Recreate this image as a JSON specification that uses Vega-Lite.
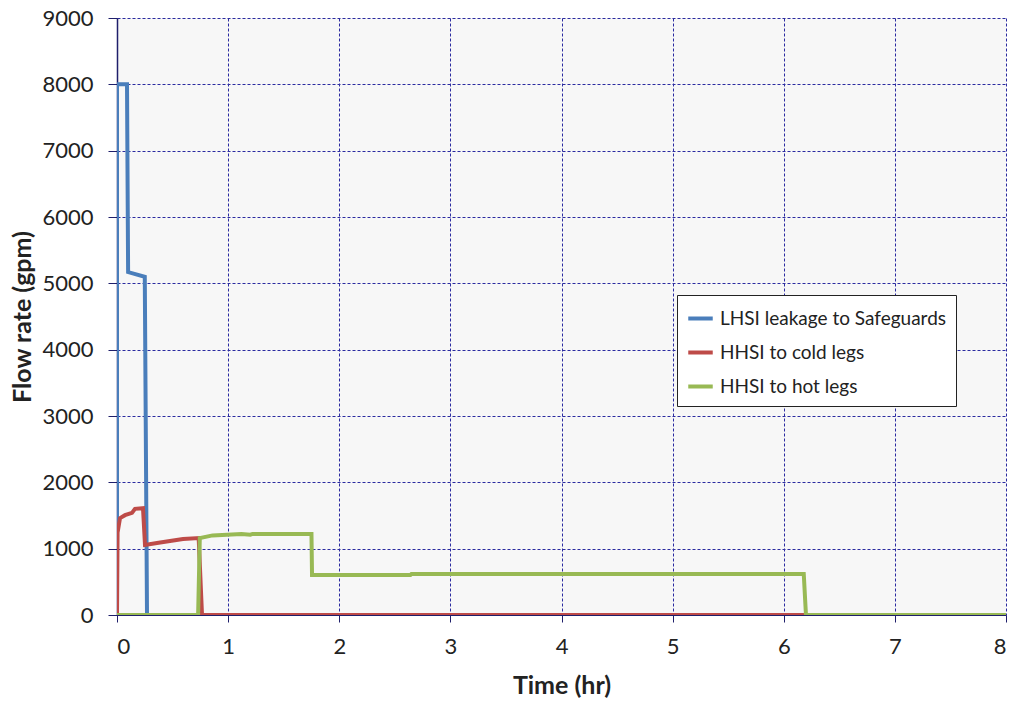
{
  "$schema": "https://vega.github.io/schema/vega-lite/v6.json",
  "width": 889,
  "height": 597,
  "autosize": "none",
  "padding": {"left": 117, "top": 18, "right": 12, "bottom": 90},
  "background": "white",
  "config": {
    "font": "Lato",
    "view": {"fill": "#f7f7f7", "stroke": null}
  },
  "data": {
    "values": [
      {"s": "LHSI leakage to Safeguards", "i": 1, "t": 0, "v": 0},
      {"s": "LHSI leakage to Safeguards", "i": 2, "t": 0, "v": 8000},
      {"s": "LHSI leakage to Safeguards", "i": 3, "t": 0.09, "v": 8000},
      {"s": "LHSI leakage to Safeguards", "i": 4, "t": 0.1, "v": 5170},
      {"s": "LHSI leakage to Safeguards", "i": 5, "t": 0.25, "v": 5100},
      {"s": "LHSI leakage to Safeguards", "i": 6, "t": 0.27, "v": 0},
      {"s": "LHSI leakage to Safeguards", "i": 7, "t": 0.8, "v": 0},
      {"s": "HHSI to cold legs", "i": 1, "t": 0, "v": 0},
      {"s": "HHSI to cold legs", "i": 2, "t": 0.005, "v": 1240},
      {"s": "HHSI to cold legs", "i": 3, "t": 0.027, "v": 1460},
      {"s": "HHSI to cold legs", "i": 4, "t": 0.072, "v": 1505},
      {"s": "HHSI to cold legs", "i": 5, "t": 0.135, "v": 1540},
      {"s": "HHSI to cold legs", "i": 6, "t": 0.162, "v": 1600},
      {"s": "HHSI to cold legs", "i": 7, "t": 0.234, "v": 1610},
      {"s": "HHSI to cold legs", "i": 8, "t": 0.252, "v": 1055},
      {"s": "HHSI to cold legs", "i": 9, "t": 0.36, "v": 1085},
      {"s": "HHSI to cold legs", "i": 10, "t": 0.477, "v": 1115},
      {"s": "HHSI to cold legs", "i": 11, "t": 0.594, "v": 1145},
      {"s": "HHSI to cold legs", "i": 12, "t": 0.735, "v": 1160},
      {"s": "HHSI to cold legs", "i": 13, "t": 0.765, "v": 0},
      {"s": "HHSI to cold legs", "i": 14, "t": 8, "v": 0},
      {"s": "HHSI to hot legs", "i": 1, "t": 0, "v": 0},
      {"s": "HHSI to hot legs", "i": 2, "t": 0.73, "v": 0},
      {"s": "HHSI to hot legs", "i": 3, "t": 0.745, "v": 1160},
      {"s": "HHSI to hot legs", "i": 4, "t": 0.86, "v": 1200},
      {"s": "HHSI to hot legs", "i": 5, "t": 1.12, "v": 1220},
      {"s": "HHSI to hot legs", "i": 6, "t": 1.2, "v": 1210},
      {"s": "HHSI to hot legs", "i": 7, "t": 1.22, "v": 1222},
      {"s": "HHSI to hot legs", "i": 8, "t": 1.75, "v": 1220},
      {"s": "HHSI to hot legs", "i": 9, "t": 1.755, "v": 603},
      {"s": "HHSI to hot legs", "i": 10, "t": 2.64, "v": 603},
      {"s": "HHSI to hot legs", "i": 11, "t": 2.65, "v": 618},
      {"s": "HHSI to hot legs", "i": 12, "t": 6.18, "v": 618},
      {"s": "HHSI to hot legs", "i": 13, "t": 6.2, "v": 0},
      {"s": "HHSI to hot legs", "i": 14, "t": 8, "v": 0}
    ]
  },
  "encoding": {
    "x": {
      "field": "t", "type": "quantitative",
      "scale": {"domain": [0, 8], "nice": false, "zero": false},
      "axis": {
        "title": "Time (hr)", "titleFontSize": 25, "titleFontWeight": "bold", "titleColor": "#222",
        "titlePadding": 16,
        "values": [0, 1, 2, 3, 4, 5, 6, 7, 8], "format": "d",
        "labelFontSize": 22, "labelColor": "#222", "labelPadding": 14,
        "tickColor": "#1f1f6b", "tickSize": 7, "domainColor": "#1f1f6b",
        "grid": true, "gridColor": "#2b2ba0", "gridDash": [3, 2], "gridWidth": 1
      }
    },
    "y": {
      "field": "v", "type": "quantitative",
      "scale": {"domain": [0, 9000], "nice": false},
      "axis": {
        "title": "Flow rate (gpm)", "titleFontSize": 25, "titleFontWeight": "bold", "titleColor": "#222",
        "titlePadding": 6,
        "values": [0, 1000, 2000, 3000, 4000, 5000, 6000, 7000, 8000, 9000], "format": "d",
        "labelFontSize": 22, "labelColor": "#222", "labelPadding": 15,
        "tickColor": "#1f1f6b", "tickSize": 9, "domainColor": "#1f1f6b", "domainWidth": 1.5,
        "grid": true, "gridColor": "#2b2ba0", "gridDash": [3, 2], "gridWidth": 1
      }
    },
    "order": {"field": "i", "type": "quantitative"},
    "color": {
      "field": "s", "type": "nominal",
      "scale": {
        "domain": ["LHSI leakage to Safeguards", "HHSI to cold legs", "HHSI to hot legs"],
        "range": ["#4a7ebb", "#be4b48", "#98b954"]
      },
      "legend": {
        "title": null, "orient": "none", "legendX": 560, "legendY": 277,
        "fillColor": "white", "strokeColor": "#222", "padding": 9,
        "symbolType": "stroke", "symbolStrokeWidth": 4, "symbolSize": 600,
        "labelFontSize": 19, "labelColor": "#222", "labelLimit": 400,
        "rowPadding": 9, "labelOffset": 5
      }
    }
  },
  "layer": [
    {
      "transform": [{"filter": "datum.s === 'LHSI leakage to Safeguards'"}],
      "mark": {"type": "line", "strokeWidth": 4, "clip": true}
    },
    {
      "transform": [{"filter": "datum.s === 'HHSI to cold legs'"}],
      "mark": {"type": "line", "strokeWidth": 4, "clip": true}
    },
    {
      "transform": [{"filter": "datum.s === 'HHSI to hot legs'"}],
      "mark": {"type": "line", "strokeWidth": 4, "clip": true}
    }
  ]
}
